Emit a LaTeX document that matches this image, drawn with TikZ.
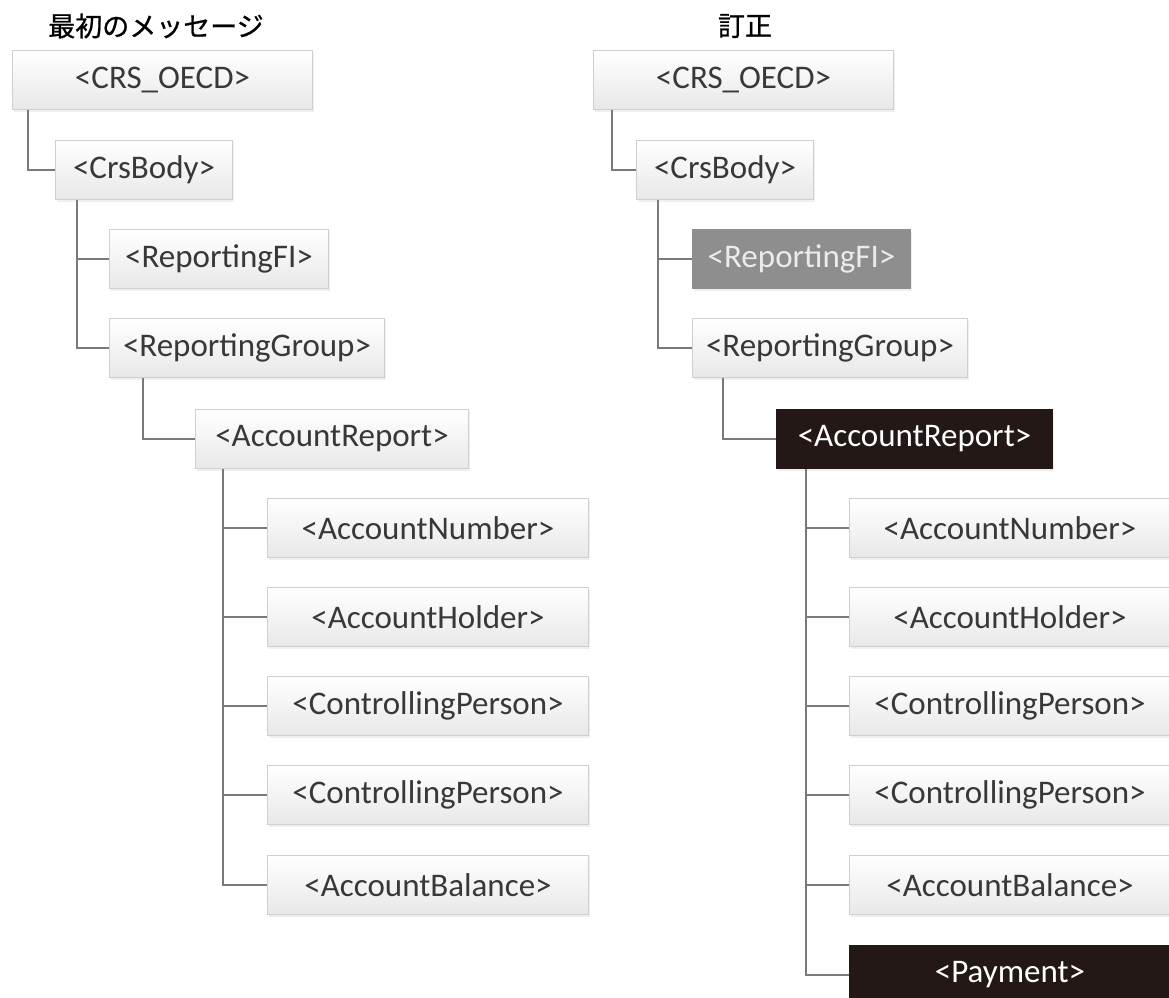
\documentclass[tikz,border=0pt]{standalone}
\usepackage{fontspec}
\setmainfont{Carlito}
\newfontfamily\jpfont[FakeBold=0.8]{Noto Sans CJK JP}
\usetikzlibrary{shadows}
\definecolor{boxline}{HTML}{CFCFCF}
\definecolor{boxtext}{HTML}{383838}
\definecolor{conncol}{HTML}{7A7A7A}
\definecolor{midgray}{HTML}{8E8E8E}
\definecolor{nearblack}{HTML}{231815}
\tikzset{
  tag/.style={rectangle, anchor=west, inner sep=0pt, minimum height=59pt,
    draw=boxline, line width=1pt, top color=white, bottom color=black!9,
    text=boxtext, font=\fontsize{33}{40}\selectfont,
    drop shadow={opacity=0.12, shadow xshift=1.5pt, shadow yshift=-2pt}},
  greytag/.style={tag, fill=midgray, top color=midgray, bottom color=midgray,
    draw=midgray, text=white!92!black},
  darktag/.style={tag, fill=nearblack, top color=nearblack, bottom color=nearblack,
    draw=nearblack, text=white},
  heading/.style={font=\jpfont\fontsize{27}{32}\selectfont, text=black},
  conn/.style={draw=conncol, line width=2.2pt}
}
\begin{document}
\begin{tikzpicture}[x=1pt,y=-1pt]
\useasboundingbox[fill=white] (0,0) rectangle (1169,997);

% ---------- first message ----------
\node[heading] (h1) at (156,26) {最初のメッセージ};
\node[tag, minimum width=300pt] (a0) at (12,80) {<CRS\_OECD>};
\node[tag, minimum width=177pt] (a1) at (55,170) {<CrsBody>};
\node[tag, minimum width=219pt] (a2) at (109,259) {<ReportingFI>};
\node[tag, minimum width=275pt] (a3) at (109,348) {<ReportingGroup>};
\node[tag, minimum width=273pt] (a4) at (195,439) {<AccountReport>};
\node[tag, minimum width=321pt] (a5) at (267,528) {<AccountNumber>};
\node[tag, minimum width=321pt] (a6) at (267,617) {<AccountHolder>};
\node[tag, minimum width=321pt] (a7) at (267,706) {<ControllingPerson>};
\node[tag, minimum width=321pt] (a8) at (267,795) {<ControllingPerson>};
\node[tag, minimum width=321pt] (a9) at (267,885) {<AccountBalance>};

\draw[conn] ([xshift=16pt]a0.south west) |- (a1.west);
\draw[conn] ([xshift=22pt]a1.south west) |- (a2.west);
\draw[conn] ([xshift=22pt]a1.south west) |- (a3.west);
\draw[conn] ([xshift=34pt]a3.south west) |- (a4.west);
\foreach \c in {a5,a6,a7,a8,a9}
  \draw[conn] ([xshift=28pt]a4.south west) |- (\c.west);

% ---------- correction ----------
\node[heading] (h2) at (745,26) {訂正};
\node[tag, minimum width=300pt] (b0) at (593,80) {<CRS\_OECD>};
\node[tag, minimum width=177pt] (b1) at (636,170) {<CrsBody>};
\node[greytag, minimum width=218pt] (b2) at (692,259) {<ReportingFI>};
\node[tag, minimum width=275pt] (b3) at (692,348) {<ReportingGroup>};
\node[darktag, minimum width=276pt] (b4) at (776,439) {<AccountReport>};
\node[tag, minimum width=321pt] (b5) at (849,528) {<AccountNumber>};
\node[tag, minimum width=321pt] (b6) at (849,617) {<AccountHolder>};
\node[tag, minimum width=321pt] (b7) at (849,706) {<ControllingPerson>};
\node[tag, minimum width=321pt] (b8) at (849,795) {<ControllingPerson>};
\node[tag, minimum width=321pt] (b9) at (849,885) {<AccountBalance>};
\node[darktag, minimum width=321pt] (b10) at (849,975) {<Payment>};

\draw[conn] ([xshift=19pt]b0.south west) |- (b1.west);
\draw[conn] ([xshift=22pt]b1.south west) |- (b2.west);
\draw[conn] ([xshift=22pt]b1.south west) |- (b3.west);
\draw[conn] ([xshift=31pt]b3.south west) |- (b4.west);
\foreach \c in {b5,b6,b7,b8,b9,b10}
  \draw[conn] ([xshift=30pt]b4.south west) |- (\c.west);
\end{tikzpicture}
\end{document}
